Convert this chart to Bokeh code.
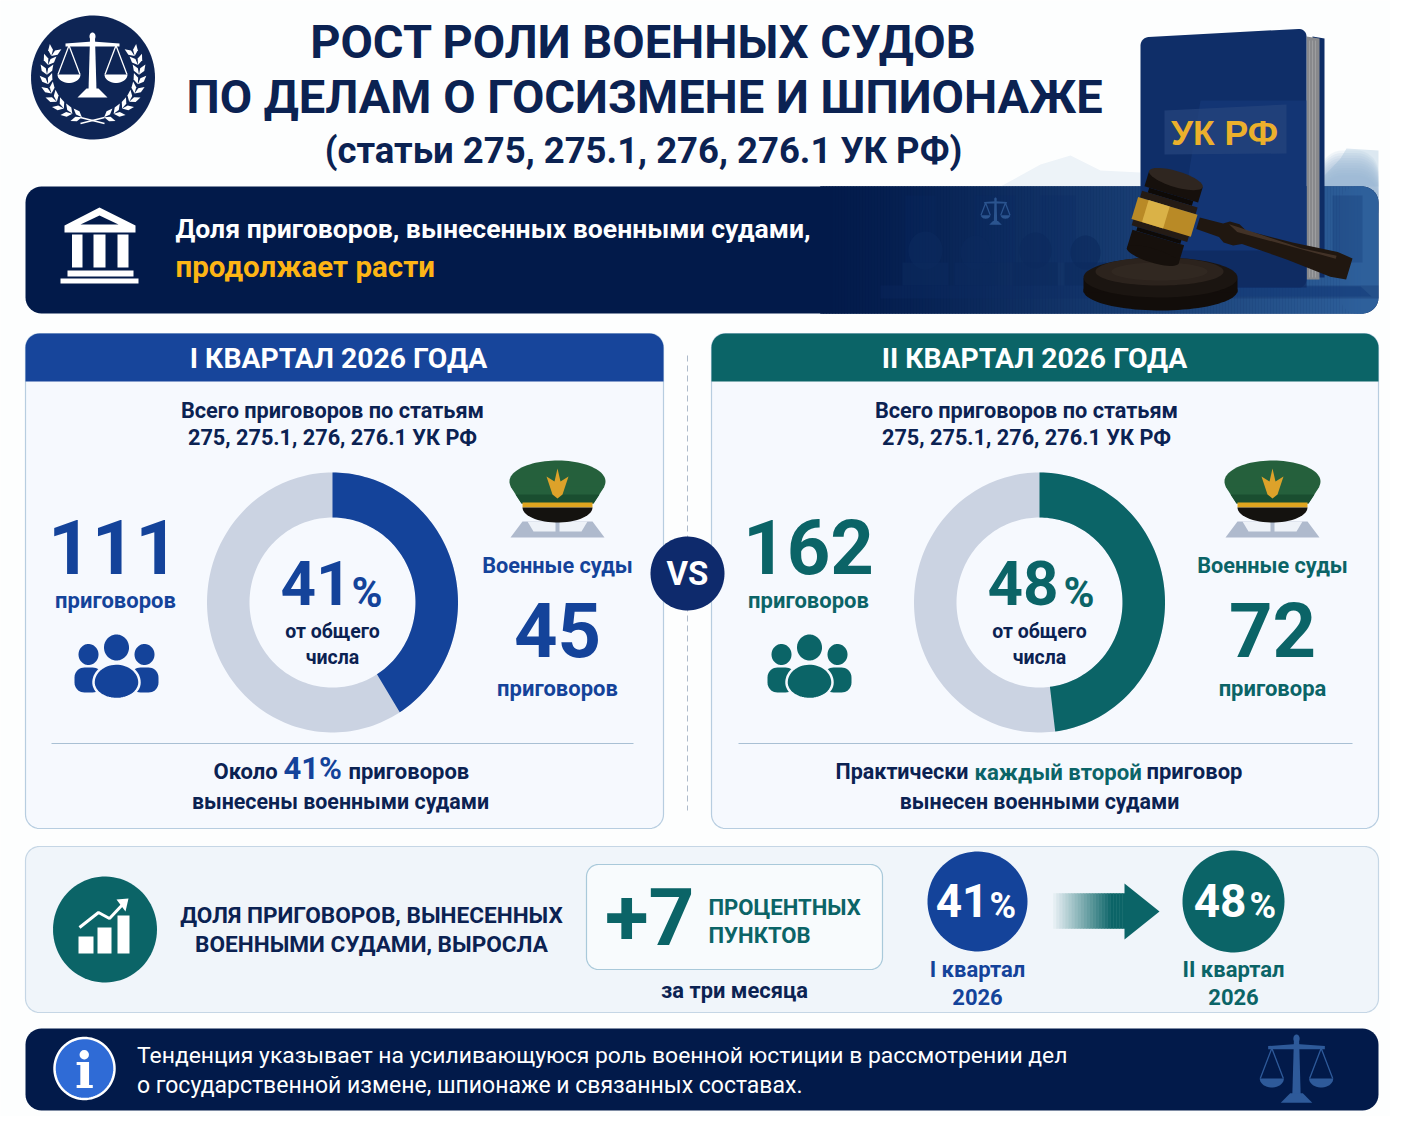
import numpy as np
from bokeh.core.properties import value
from bokeh.embed import file_html
from bokeh.models import Range1d
from bokeh.plotting import figure
from bokeh.resources import INLINE

# data
quarters = ["I КВАРТАЛ 2026 ГОДА", "II КВАРТАЛ 2026 ГОДА"]
quarter_short = ["I квартал", "II квартал"]
year = "2026"
total_verdicts = [111, 162]
total_words = ["приговоров", "приговоров"]
military_verdicts = [45, 72]
military_words = ["приговоров", "приговора"]
shares = [41, 48]
growth = 7

NAVY = "#0B2252"
DARK = "#021A4A"
BLUE = "#14439A"
TEAL = "#0B6467"
GOLD = "#FDB515"
GREY = "#CBD3E2"
PANEL = "#F6F9FE"
ROB = "Roboto"

p = figure(width=1390, height=1116, output_backend="svg", toolbar_location=None,
           x_range=Range1d(0, 1390), y_range=Range1d(1116, 0),
           x_axis_type=None, y_axis_type=None, min_border=0,
           background_fill_color="#FDFEFE", border_fill_color="#FDFEFE", outline_line_color=None)
p.grid.visible = False


def rr(x0, y0, x1, y1, r, top=True, bottom=True):
    """rounded rectangle outline"""
    a = np.linspace(0, np.pi / 2, 10)
    rt = r if top else 0
    rb = r if bottom else 0
    xs = np.concatenate([x0 + rt - rt * np.cos(a), x1 - rt + rt * np.sin(a), x1 - rb + rb * np.cos(a), x0 + rb - rb * np.sin(a)])
    ys = np.concatenate([y0 + rt - rt * np.sin(a), y0 + rt - rt * np.cos(a), y1 - rb + rb * np.sin(a), y1 - rb + rb * np.cos(a)])
    return xs, ys


def poly(xs, ys, color, alpha=1.0, line=None, lw=1.0):
    p.patch(list(xs), list(ys), fill_color=color, fill_alpha=alpha, line_color=line, line_width=lw)


def ell(cx, cy, rx, ry, color, alpha=1.0, line=None, lw=1.0):
    a = np.linspace(0, 2 * np.pi, 90)
    poly(cx + rx * np.cos(a), cy + ry * np.sin(a), color, alpha, line, lw)


def tilted(cx, cy, deg, pts):
    """local points (a, b) turned round (cx, cy)"""
    t = np.radians(deg)
    pts = np.array(pts, dtype=float)
    return cx + pts[:, 0] * np.cos(t) - pts[:, 1] * np.sin(t), cy + pts[:, 0] * np.sin(t) + pts[:, 1] * np.cos(t)


def txt(x, y, s, size, color, align="center", font=ROB, style="bold"):
    p.text([x], [y], text=[s], text_font=value(font), text_font_size=f"{size}px", text_font_style=style,
           text_color=color, text_align=align, text_baseline="middle")


def hexmix(c1, c2, t):
    a = np.array([int(c1[i:i + 2], 16) for i in (1, 3, 5)])
    b = np.array([int(c2[i:i + 2], 16) for i in (1, 3, 5)])
    m = (a + (b - a) * t).round().astype(int)
    return "#%02x%02x%02x" % tuple(m)


def scales(cx, top, k, color):
    """scales icon, k = 1 is the logo size"""
    poly([cx - 2.5 * k, cx + 2.5 * k, cx + 4 * k, cx - 4 * k], [top + 6 * k, top + 6 * k, top + 58 * k, top + 58 * k], color)
    ell(cx, top + 4 * k, 3 * k, 4 * k, color)
    poly([cx - 27 * k, cx, cx + 27 * k, cx + 27 * k, cx, cx - 27 * k],
         [top + 11 * k, top + 9 * k, top + 11 * k, top + 14 * k, top + 14 * k, top + 14 * k], color)
    for sx in (-1, 1):
        c = cx + sx * 23.5 * k
        p.line([c - 11 * k, c, c + 11 * k], [top + 42 * k, top + 13 * k, top + 42 * k], line_color=color, line_width=1.3)
        a = np.linspace(0, np.pi, 20)
        poly(c + 11.5 * k * np.cos(a), top + 42 * k + 8.5 * k * np.sin(a), color)
    poly([cx - 6 * k, cx + 6 * k, cx + 15 * k, cx - 15 * k], [top + 56 * k, top + 56 * k, top + 65 * k, top + 65 * k], color)


def people(cx, color):
    ell(cx, 647, 12.5, 13, color)
    for sx in (-1, 1):
        c = cx + sx * 28
        ell(c, 654, 10, 10.5, color)
        poly(*rr(c - 14, 667, c + 14, 692, 10), color)
    a = np.linspace(0, 2 * np.pi, 60)
    xs = cx + 23 * np.cos(a)
    ys = 682 + np.where(np.sin(a) > 0, 16.5, 19) * np.sin(a)
    poly(xs, ys, color, line=PANEL, lw=2.5)


def cap(cx):
    # shadow under the cap
    poly([cx - 35, cx + 35, cx + 47, cx - 47], [521, 521, 537, 537], "#AFBACD")
    poly([cx - 30, cx - 2, cx - 2, cx - 24], [521, 521, 531, 531], "#EEF2F8")
    poly([cx + 2, cx + 30, cx + 24, cx + 2], [521, 521, 531, 531], "#EEF2F8")
    ell(cx, 481, 48, 21, "#25603C")
    poly([cx - 47, cx + 47, cx + 36, cx - 36], [486, 486, 503, 503], "#25603C")
    poly([cx - 42, cx + 42, cx + 36, cx - 36], [494, 494, 503, 503], "#1A4E30")
    poly([cx - 35, cx + 35, cx + 35, cx - 35], [502, 502, 507, 507], "#E0A51F")
    a2 = np.linspace(0, np.pi, 30)
    poly(cx - 35 * np.cos(a2), 507 + 15 * np.sin(a2), "#14120F")
    # emblem
    poly([cx, cx + 3, cx + 11, cx + 5, cx, cx - 5, cx - 11, cx - 3], [468, 481, 476, 494, 498, 494, 476, 481], "#DDA22A")


# header: logo
ell(92.5, 77, 62, 62, "#0E2555")
scales(92, 32, 1, "#FFFFFF")
for sx in (-1, 1):
    for ang in np.linspace(14, 115, 9):
        r = np.radians(ang)
        x0 = 92.5 + sx * 46 * np.sin(r)
        y0 = 74 + 44 * np.cos(r)
        d = np.degrees(np.arctan2(-np.sin(r), sx * np.cos(r)))
        for off in (-32, 32):
            xs, ys = tilted(x0, y0, d + off, [(0, 0), (6, -2.4), (12, 0), (6, 2.4)])
            poly(xs, ys, "#FFFFFF")
p.line([80, 104], [117, 123], line_color="#FFFFFF", line_width=1.5)
p.line([80, 104], [123, 117], line_color="#FFFFFF", line_width=1.5)

txt(643, 41, "РОСТ РОЛИ ВОЕННЫХ СУДОВ", 47, NAVY)
txt(644, 96, "ПО ДЕЛАМ О ГОСИЗМЕНЕ И ШПИОНАЖЕ", 47, NAVY)
txt(643, 150, "(статьи 275, 275.1, 276, 276.1 УК РФ)", 36.5, NAVY)

# mist behind the banner
poly([1000, 1040, 1070, 1100, 1140, 1140, 1000], [186, 164, 155, 170, 172, 186, 186], "#EDF3F8")
poly([1324, 1340, 1346, 1378, 1378, 1324], [175, 158, 148, 150, 186, 186], "#DCE8F1")
for y0 in np.arange(150, 176, 2.5):
    poly(*rr(1320, y0, 1378, 230, 22), "#8FB2CF", 0.13)

# banner
poly(*rr(25, 186, 1378, 313, 16), DARK)
poly(*rr(1340, 186, 1378, 313, 16), "#2E609B")
edges = np.arange(820, 1362, 3.0)
stop = np.clip((edges - 820) / 542, 0, 1)
cols = [hexmix(DARK, "#2E609B", t ** 1.25) for t in stop]
p.quad(left=edges, right=edges + 3, top=186, bottom=313, fill_color=cols, line_color=cols, line_width=0.5)
# room silhouettes
for x0, x1 in [(905, 935), (975, 1015), (1040, 1075), (1240, 1262), (1332, 1362)]:
    poly([x0, x1, x1, x0], [195, 195, 262, 262], "#0A2A62", 0.22)
scales(995, 197, 0.42, "#2B548F")
for cx, cy, r in [(925, 250, 17), (975, 252, 15), (1035, 250, 16), (1085, 252, 15)]:
    ell(cx, cy, r, r + 2, "#0B2A5E", 0.6)
    poly([cx - r - 6, cx + r + 6, cx + r + 6, cx - r - 6], [262, 262, 285, 285], "#0B2A5E", 0.6)
poly([880, 1378, 1378, 880], [285, 285, 298, 298], "#0C2B63", 0.3)
poly([1140, 1360, 1371, 1100], [286, 286, 296, 296], "#113A7A", 0.5)

# book
poly([1312, 1324, 1324, 1312], [36, 38, 277, 277], "#0E2D66")
poly([1306, 1319, 1319, 1306], [36, 38, 279, 279], "#88898C")
for x in (1309, 1312, 1315):
    p.line([x, x], [40, 277], line_color="#A6A7A9", line_width=0.7)
xs, ys = rr(1140, 28, 1306, 287, 8)
ys = ys + (1306 - xs) / 166 * 9
ys = np.minimum(ys, 287)
poly(xs, ys, "#0F2E68")
poly([1200, 1306, 1306, 1170], [100, 100, 287, 287], "#173D7D", 0.55)
poly([1140, 1306, 1306, 1140], [250, 250, 287, 287], "#0A224F", 0.45)
poly([1164, 1286, 1286, 1164], [110, 104, 153, 154], "#26447C", 0.75)
txt(1224, 132, "УК РФ", 35.5, "#EBB02C", font="Liberation Sans", style="bold")

# gavel
ell(1160, 290, 77, 20, "#120D0A")
poly([1083, 1237, 1237, 1083], [278, 278, 292, 292], "#120D0A")
ell(1160, 277, 77, 20, "#1B1511")
ell(1159, 271, 64, 14, "#2C231D")
ell(1159, 271, 48, 9, "#362B24", 0.6)
GX, GY, GT = 1165, 213, 16.8
half = [(34, 6), (58, 7), (64, 11), (74, 11), (82, 7), (130, 9), (176, 13), (192, 11)]
poly(*tilted(GX, GY, GT, half + [(a, -h) for a, h in half[::-1]]), "#201710")
poly(*tilted(GX, GY, GT, [(64, -8), (74, -8), (140, -6), (176, -9), (176, -6), (74, -3)]), "#4B3A2D", 0.8)
for b0, b1, w, c in [(-36, -20, 28, "#16100C"), (-20, -15, 23, "#0E0A07"), (-15, -8, 29, "#241B15"),
                     (14, 21, 29, "#241B15"), (21, 25, 23, "#0E0A07"), (25, 44, 27, "#16100C")]:
    poly(*tilted(GX, GY, GT, [(-w, b0), (w, b0), (w, b1), (-w, b1)]), c)
poly(*tilted(GX, GY, GT, [(-31, -8), (31, -8), (31, 15), (-31, 15)]), "#B98A26")
poly(*tilted(GX, GY, GT, [(-20, -8), (2, -8), (2, 15), (-20, 15)]), "#E2BC50", 0.8)
a = np.linspace(0, 2 * np.pi, 50)
poly(*tilted(GX, GY, GT, np.c_[28 * np.cos(a), -36 + 8 * np.sin(a)]), "#2F2620")
poly(*tilted(GX, GY, GT, np.c_[27 * np.cos(a), 44 + 7 * np.sin(a)]), "#16100C")

# building icon
poly([99, 135, 135, 64, 64], [207, 225, 232, 232, 225], "#FFFFFF")
poly([99, 118, 80], [215, 224, 224], DARK)
for x0, x1 in [(71.5, 82), (93, 105), (117, 128)]:
    poly([x0, x1, x1, x0], [234, 234, 267, 267], "#FFFFFF")
poly([67, 133, 133, 67], [270, 270, 276, 276], "#FFFFFF")
poly([60, 138, 138, 60], [278, 278, 283, 283], "#FFFFFF")

txt(175, 228, "Доля приговоров, вынесенных военными судами,", 26.6, "#FFFFFF", "left")
txt(175, 266, "продолжает расти", 29.5, GOLD, "left")

# quarter panels
panels = [(25, 663, BLUE, 338, 332, 113, 116, 332, 557, (51, 633), 340, 19),
          (711, 1378, TEAL, 1034, 1026, 808, 809, 1039, 1272, (738, 1352), 1039, 24)]
for i, (x0, x1, col, head_x, sub_x, big_x, ppl_x, cx, mil_x, rule, foot_x, pct_dx) in enumerate(panels):
    poly(*rr(x0, 333, x1, 828, 14), PANEL, line="#B7CDE0", lw=1.2)
    poly(*rr(x0, 333, x1, 381, 14, bottom=False), col if i else "#17459B")
    txt(head_x, 358, quarters[i], 28.3, "#FFFFFF")
    txt(sub_x, 410, "Всего приговоров по статьям", 21.7, NAVY)
    txt(sub_x, 437, "275, 275.1, 276, 276.1 УК РФ", 21.7, NAVY)
    txt(big_x, 546, str(total_verdicts[i]), 76, col)
    txt(big_x + (2 if i == 0 else 0), 600, total_words[i], 22, col)
    people(ppl_x, col)

    # donut, drawn from the share
    ang = np.linspace(0, 2 * np.pi, 200)
    rx, ry, ix, iy = 125.5, 130, 83, 85
    ring_x = np.concatenate([cx + rx * np.sin(ang), cx + ix * np.sin(ang[::-1])])
    ring_y = np.concatenate([602 - ry * np.cos(ang), 602 - iy * np.cos(ang[::-1])])
    poly(ring_x, ring_y, GREY)
    ang = np.linspace(0, 2 * np.pi * shares[i] / 100, 100)
    ring_x = np.concatenate([cx + rx * np.sin(ang), cx + ix * np.sin(ang[::-1])])
    ring_y = np.concatenate([602 - ry * np.cos(ang), 602 - iy * np.cos(ang[::-1])])
    poly(ring_x, ring_y, col)
    txt(cx - 52, 582, str(shares[i]), 62, col, "left")
    txt(cx + pct_dx, 592, "%", 42, col, "left")
    txt(cx, 631, "от общего", 19.5, NAVY)
    txt(cx, 657, "числа", 19.5, NAVY)

    cap(mil_x)
    txt(mil_x, 565, "Военные суды", 21.7, col)
    txt(mil_x, 629, str(military_verdicts[i]), 76, col)
    txt(mil_x, 688, military_words[i], 22, col)
    p.line(list(rule), [743, 743], line_color="#A9C0D4", line_width=1)

txt(213, 771, "Около", 22, NAVY, "left")
txt(283, 768, f"{shares[0]}%", 31, BLUE, "left")
txt(348, 771, "приговоров", 22, NAVY, "left")
txt(340, 801, "вынесены военными судами", 21.4, NAVY)
txt(835, 771, "Практически", 21.5, NAVY, "left")
txt(974, 771, "каждый второй", 22.2, TEAL, "left")
txt(1146, 771, "приговор", 22, NAVY, "left")
txt(1039, 801, "вынесен военными судами", 21.4, NAVY)

# vs
p.line([687, 687], [355, 810], line_color="#AEBBCB", line_width=1, line_dash="6 4")
ell(687, 573, 37, 37, "#0E2A6C")
txt(687, 573, "VS", 33, "#FFFFFF")

# growth band
poly(*rr(25, 846, 1378, 1012, 14), "#F0F5FA", line="#C5D6E5", lw=1.2)
ell(104.5, 929, 52, 53, TEAL)
for x0, x1, y0 in [(78, 93, 936), (97, 111, 927), (117, 129, 915)]:
    poly([x0, x1, x1, x0], [y0, y0, 953, 953], "#FFFFFF")
p.line([79, 98, 109, 124], [927, 912, 918, 902], line_color="#FFFFFF", line_width=3)
poly([116, 128, 125], [899, 898, 911], "#FFFFFF")
txt(371, 915, "ДОЛЯ ПРИГОВОРОВ, ВЫНЕСЕННЫХ", 22.6, NAVY)
txt(371, 944, "ВОЕННЫМИ СУДАМИ, ВЫРОСЛА", 22.6, NAVY)

poly(*rr(586, 864, 882, 969, 12), "#F8FBFD", line="#A9C9DA", lw=1.2)
txt(694, 916, f"+{growth}", 80, TEAL, "right")
txt(708, 906, "ПРОЦЕНТНЫХ", 22.1, TEAL, "left")
txt(708, 934, "ПУНКТОВ", 22.1, TEAL, "left")
txt(734, 990, "за три месяца", 21.9, NAVY)

for i, (cx, col, r, dig_dx, pct_dx) in enumerate([(977, BLUE, 50, 11, 12), (1233, TEAL, 51, 13, 16)]):
    ell(cx, 901, r, r, col)
    txt(cx + dig_dx, 900, str(shares[i]), 46, "#FFFFFF", "right")
    txt(cx + pct_dx, 905, "%", 36, "#FFFFFF", "left")
    txt(cx, 969, quarter_short[i], 22, col)
    txt(cx, 996, year, 22, col)

# arrow with a fade on its tail
edges = np.arange(1050, 1125, 3.0)
cols = [hexmix("#F0F5FA", TEAL, min(1, (x - 1050) / 60)) for x in edges]
p.quad(left=edges, right=edges + 3, top=893, bottom=928, fill_color=cols, line_color=cols, line_width=0.5)
poly([1124, 1159, 1124], [883, 911, 939], TEAL)

# footer
poly(*rr(25, 1028, 1378, 1110, 16), DARK)
ell(84, 1068, 30, 30.5, "#2F6BD6", line="#FFFFFF", lw=2.5)
txt(84, 1070, "i", 50, "#FFFFFF", font="DejaVu Serif")
txt(136.5, 1055, "Тенденция указывает на усиливающуюся роль военной юстиции в рассмотрении дел", 22.9, "#FFFFFF", "left", ROB, "normal")
txt(136.5, 1085, "о государственной измене, шпионаже и связанных составах.", 23, "#FFFFFF", "left", ROB, "normal")
scales(1296, 1034, 1.05, "#2E5A9A")

open("out.html", "w").write(file_html(p, INLINE))
